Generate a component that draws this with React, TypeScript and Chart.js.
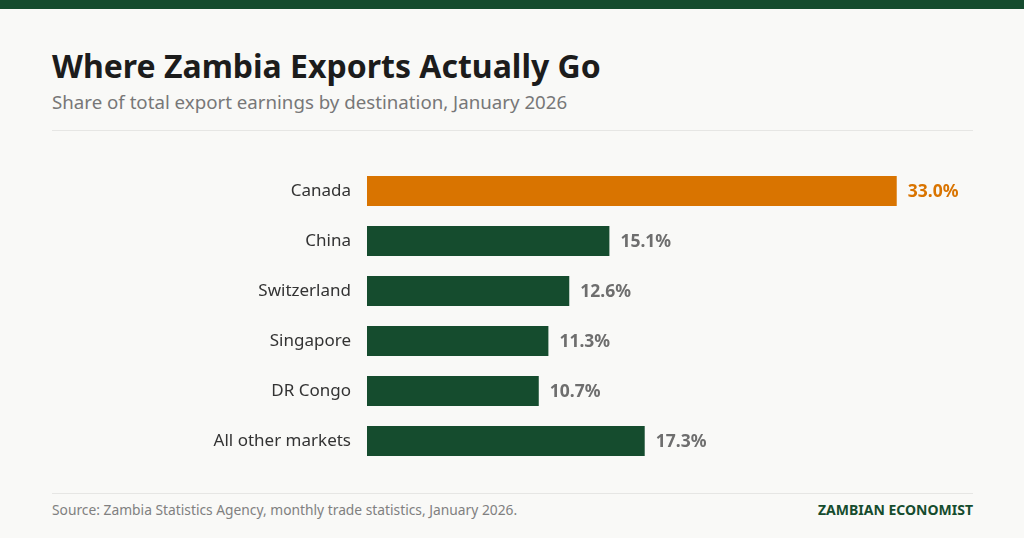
import React, { useEffect, useRef } from "react";
import { Chart, registerables } from "chart.js";

Chart.register(...registerables);

const categories = ["Canada", "China", "Switzerland", "Singapore", "DR Congo", "All other markets"];
const shares = [33.0, 15.1, 12.6, 11.3, 10.7, 17.3];
const highlight = [true, false, false, false, false, false];

const GREEN = "#154c2e";
const ORANGE = "#d97400";
const FONT = "'Noto Sans', 'Open Sans', sans-serif";

const valueLabels = {
  id: "valueLabels",
  afterDatasetsDraw(chart: any) {
    const ctx = chart.ctx;
    const meta = chart.getDatasetMeta(0);
    ctx.save();
    ctx.font = `bold 17.5px ${FONT}`;
    ctx.textBaseline = "middle";
    ctx.textAlign = "left";
    meta.data.forEach((bar: any, i: number) => {
      ctx.fillStyle = highlight[i] ? ORANGE : "#6e6e6e";
      ctx.fillText(shares[i].toFixed(1) + "%", bar.x + 11, bar.y + 1);
    });
    ctx.restore();
  },
};

export default function App() {
  const ref = useRef<HTMLCanvasElement>(null);
  useEffect(() => {
    document.body.style.margin = "0";
    const chart = new Chart(ref.current!, {
      type: "bar",
      data: {
        labels: categories,
        datasets: [
          {
            data: shares,
            backgroundColor: highlight.map((h) => (h ? ORANGE : GREEN)),
            barPercentage: 0.6,
            categoryPercentage: 1,
          },
        ],
      },
      options: {
        indexAxis: "y",
        animation: false,
        responsive: false,
        maintainAspectRatio: false,
        layout: { padding: { top: 6, bottom: 6, left: 0, right: 0 } },
        plugins: { legend: { display: false }, tooltip: { enabled: false } },
        scales: {
          x: { display: false, min: 0, max: 38 },
          y: {
            grid: { display: false, drawTicks: false },
            border: { display: false },
            ticks: { color: "#333", font: { family: FONT, size: 17 }, padding: 16 },
            afterFit: (s: any) => {
              s.width = 315;
              s.paddingTop = 0;
              s.paddingBottom = 0;
            },
          },
        },
      },
      plugins: [valueLabels],
    });
    return () => chart.destroy();
  }, []);

  return (
    <div style={{ position: "relative", width: 1024, height: 538, background: "#f9f9f7", overflow: "hidden", fontFamily: FONT }}>
      <div style={{ position: "absolute", left: 0, top: 0, width: 1024, height: 9, background: GREEN }} />
      <div style={{ position: "absolute", left: 52, top: 44, fontSize: 32, fontWeight: 700, color: "#1c1c1c", lineHeight: "44px", whiteSpace: "nowrap" }}>
        Where Zambia Exports Actually Go
      </div>
      <div style={{ position: "absolute", left: 52, top: 89, fontSize: 18.7, color: "#777", lineHeight: "26px", whiteSpace: "nowrap" }}>
        Share of total export earnings by destination, January 2026
      </div>
      <div style={{ position: "absolute", left: 52, top: 130, width: 921, height: 1, background: "#e6e6e4" }} />
      <canvas ref={ref} width={925} height={312} style={{ position: "absolute", left: 52, top: 160 }} />
      <div style={{ position: "absolute", left: 52, top: 493, width: 921, height: 1, background: "#e6e6e4" }} />
      <div style={{ position: "absolute", left: 52, top: 500, fontSize: 13.8, color: "#808080", lineHeight: "20px", whiteSpace: "nowrap" }}>
        Source: Zambia Statistics Agency, monthly trade statistics, January 2026.
      </div>
      <div style={{ position: "absolute", right: 51, top: 500, fontSize: 14, fontWeight: 700, color: GREEN, lineHeight: "20px", whiteSpace: "nowrap" }}>
        ZAMBIAN ECONOMIST
      </div>
    </div>
  );
}
